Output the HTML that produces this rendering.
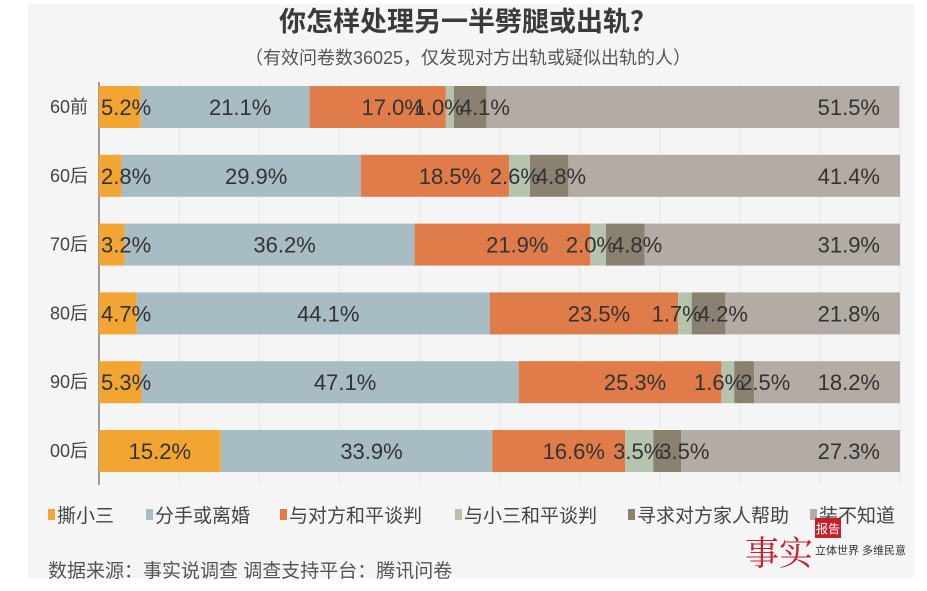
<!DOCTYPE html>
<html><head><meta charset="utf-8"><style>
body{margin:0;background:#fff;font-family:"Liberation Sans","Noto Sans CJK SC",sans-serif;}
#wrap{position:relative;width:927px;height:591px;overflow:hidden;background:#fff}
#bg{position:absolute;left:28px;top:4px;width:886px;height:574px;background:#f5f5f5}
.num{font-family:"Liberation Sans Narrow","Liberation Sans",sans-serif}
</style></head><body>
<div id="wrap">
<div id="bg"></div>
<svg id="svg" width="927" height="591" style="position:absolute;left:0;top:0">
<text x="468" y="31" text-anchor="middle" font-size="27" font-weight="bold" fill="#3a3a3a">你怎样处理另一半劈腿或出轨？</text>
<text x="468" y="64" text-anchor="middle" font-size="18" fill="#555">（有效问卷数36025，仅发现对方出轨或疑似出轨的人）</text>
<g id="grid"></g><g id="bars"></g><g id="legend"></g>
<text x="48" y="577" font-size="19" fill="#555">数据来源：事实说调查  调查支持平台：腾讯问卷</text>
<text x="745" y="565" font-size="34" fill="#c8202a" font-family="'Noto Serif CJK SC',serif">事实</text>
<rect x="815" y="518" width="26" height="20" fill="#c8202a"/>
<text x="828" y="533" text-anchor="middle" font-size="12" fill="#fff">报告</text>
<text x="815" y="554" font-size="11" fill="#333">立体世界 多维民意</text>
</svg>
</div>
<script>
const categories=["60前","60后","70后","80后","90后","00后"];
const seriesNames=["撕小三","分手或离婚","与对方和平谈判","与小三和平谈判","寻求对方家人帮助","装不知道"];
const s1=[5.2,2.8,3.2,4.7,5.3,15.2];
const s2=[21.1,29.9,36.2,44.1,47.1,33.9];
const s3=[17.0,18.5,21.9,23.5,25.3,16.6];
const s4=[1.0,2.6,2.0,1.7,1.6,3.5];
const s5=[4.1,4.8,4.8,4.2,2.5,3.5];
const s6=[51.5,41.4,31.9,21.8,18.2,27.3];
const colors=["#f2a532","#a8bcc4","#df7c4a","#b6c4ae","#8b8170","#b3aca5"];
const NS="http://www.w3.org/2000/svg";
const x0=99,x1=900;
const xs=v=>x0+v*(x1-x0)/100;
const yc=i=>107+i*68.8;
const bh=42;
function mk(t,a){const e=document.createElementNS(NS,t);for(const k in a)e.setAttribute(k,a[k]);return e;}
const grid=document.getElementById('grid');
for(let g=0;g<=100;g+=10){const l=mk('line',{x1:xs(g),x2:xs(g),y1:82,y2:485,stroke:g===0?'#444':'#e6e6e6','stroke-width':1});

grid.appendChild(l);}
const series=[s1,s2,s3,s4,s5,s6];
const bars=document.getElementById('bars');
const labels=[];
categories.forEach((c,i)=>{
  const t=mk('text',{x:88,y:yc(i)+6,'text-anchor':'end','font-size':18,fill:'#444'});t.textContent=c;
  
  bars.appendChild(t);
  let acc=0;
  series.forEach((s,j)=>{
    const v=s[i];
    const a=xs(acc),b=xs(acc+v);
    const r=mk('rect',{x:a,y:yc(i)-bh/2,width:b-a,height:bh,fill:colors[j]});
    
    bars.appendChild(r);
    let lx,anc;
    if(j===0){ if(v<8){lx=a+2;anc='start';}else{lx=(a+b)/2;anc='middle';} }
    else if(j===1||j===2){lx=(a+b)/2+15;anc='middle';}
    else if(j===3){lx=b+10;anc='end';}
    else if(j===4){lx=a+6;anc='start';}
    else {lx=880;anc='end';}
    const tx=mk('text',{x:lx,y:yc(i)+8,'text-anchor':anc,'font-size':22,fill:'#333',class:'num'});
    tx.textContent=v.toFixed(1)+'%';
    
    labels.push(tx);
    acc+=v;
  });
});
labels.forEach(l=>bars.appendChild(l));
const lg=document.getElementById('legend');
const lx=[48,146,280,455,628,810];
seriesNames.forEach((n,j)=>{
  const r=mk('rect',{x:lx[j],y:509,width:7,height:11,fill:colors[j]});
  
  lg.appendChild(r);
  const t=mk('text',{x:lx[j]+9,y:522,'font-size':19,fill:'#444'});t.textContent=n;
  
  lg.appendChild(t);
});
</script>
</body></html>
